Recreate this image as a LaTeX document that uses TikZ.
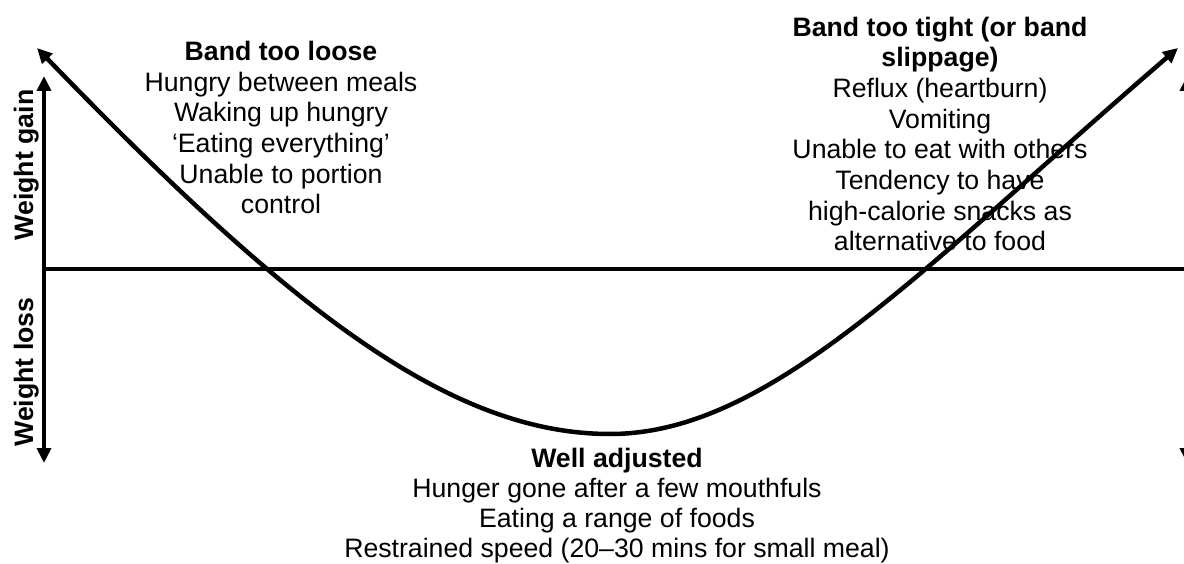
\documentclass[tikz,border=0pt]{standalone}
\usepackage{fontspec}
\setmainfont{Liberation Sans}
\usetikzlibrary{arrows.meta}

\begin{document}
\begin{tikzpicture}[x=1pt,y=-1pt,line width=4.5pt,
	tip/.tip={Triangle[length=15pt,width=14pt]},
	axis/.style={tip-tip},
	lbl/.style={align=center,anchor=base,inner sep=0pt,font=\fontsize{26.67}{30.67}\selectfont},
	vlbl/.style={lbl,rotate=90,font=\fontsize{26.67}{30.67}\selectfont\bfseries}]
		\useasboundingbox (0,0) rectangle (1184,564);
		\clip (0,0) rectangle (1184,564);
		\coordinate (G0) at (44,76);
		\coordinate (L0) at (44,463);
		\coordinate (G1) at (1187,76);
		\coordinate (L1) at (1187,463);
		\coordinate (M0) at (44,269);
		\coordinate (M1) at (1187,269);
		\coordinate (C0) at (37,48);
		\coordinate (Cmin) at (610,434);
		\coordinate (C1) at (1178,48);
		\node[vlbl] (gain) at (33,165) {Weight gain};
		\node[vlbl] (loss) at (33,372) {Weight loss};
		\node[lbl] (loose) at (281,214) {\textbf{Band too loose}\\Hungry between meals\\Waking up hungry\\‘Eating everything’\\Unable to portion\\control};
		\node[lbl] (tight) at (940,251) {\textbf{Band too tight (or band}\\\textbf{slippage)}\\Reflux (heartburn)\\Vomiting\\Unable to eat with others\\Tendency to have\\high-calorie snacks as\\alternative to food};
		\node[lbl,font=\fontsize{26.67}{30}\selectfont] (well) at (617,557) {\textbf{Well adjusted}\\Hunger gone after a few mouthfuls\\Eating a range of foods\\Restrained speed (20–30 mins for small meal)};
		\draw[axis] (L0) -- (G0);
		\draw[axis] (L1) -- (G1);
		\draw (M0) -- (M1);
		\draw[axis] (C0) .. controls (290,310) and (450,434) .. (Cmin) .. controls (770,434) and (920,270) .. (C1);
	    \end{tikzpicture}
\end{document}
